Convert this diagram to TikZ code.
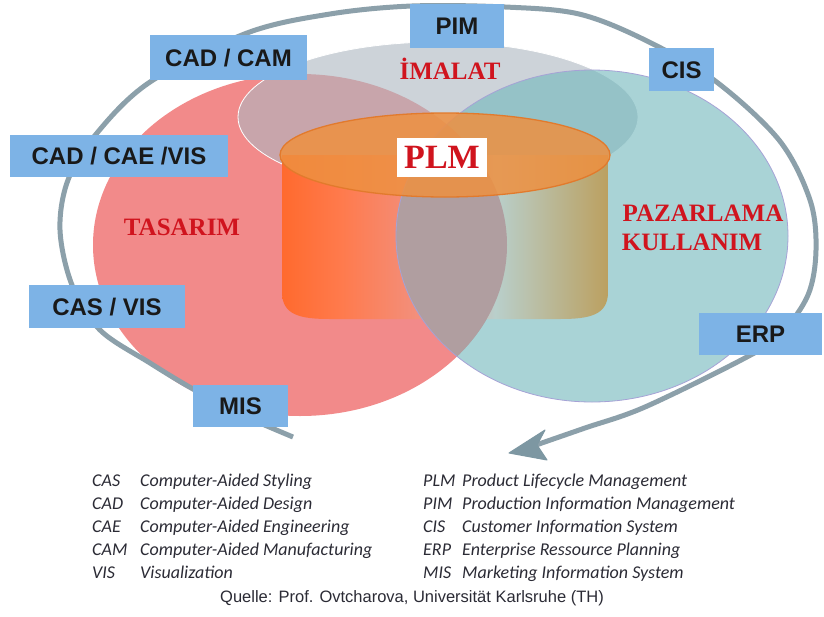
\documentclass[tikz,border=0pt]{standalone}
\usepackage{fontspec}
\setmainfont{Liberation Serif}
\newfontfamily\boxfont{Liberation Sans}
\newfontfamily\legfont{Carlito}
\usetikzlibrary{arrows.meta}
\definecolor{redc}{HTML}{F28A8A}
\definecolor{grayc}{HTML}{ACB7C1}
\definecolor{bluec}{HTML}{71B7BC}
\definecolor{lensc}{HTML}{B09EA0}
\definecolor{boxc}{HTML}{7DB3E6}
\definecolor{arcc}{HTML}{8CA0AA}
\definecolor{headc}{HTML}{7D97A2}
\definecolor{titlec}{HTML}{D0141E}
\definecolor{legc}{HTML}{2B2B35}
\definecolor{topc}{HTML}{EE9040}
\definecolor{topline}{HTML}{E27A2C}
\definecolor{blueline}{HTML}{A6A2D6}
\definecolor{ca}{HTML}{FF6A2E}
\definecolor{cb}{HTML}{FF7A4C}
\definecolor{cc}{HTML}{F2907E}
\definecolor{cd}{HTML}{B9CFCB}
\definecolor{ce}{HTML}{BBA060}
\pgfdeclarehorizontalshading{cylshade}{100bp}{color(0bp)=(ca); color(25bp)=(ca); color(33.9bp)=(cb); color(46.2bp)=(cc); color(57.7bp)=(cd); color(75bp)=(ce); color(100bp)=(ce)}
\begin{document}
\begin{tikzpicture}[x=1pt,y=-1pt,
  tbox/.style={fill=boxc, inner sep=0pt, text=black!90,
    font=\boxfont\bfseries\fontsize{24}{28}\selectfont, text height=17.2pt, text depth=0pt},
  region/.style={text=titlec, inner sep=0pt, font=\bfseries\fontsize{25}{29}\selectfont,
    text height=16.6pt, text depth=0pt},
  leg/.style={font=\legfont\itshape\fontsize{18}{21}\selectfont, text=legc, inner sep=0pt,
    anchor=west, text height=12pt, text depth=4pt},
  cyclearc/.style={draw=arcc, line width=5pt},
  cyclehead/.style={fill=headc, draw=headc, line width=1pt, line join=round}
]
\useasboundingbox (0,0) rectangle (824,616);
\fill[white] (0,0) rectangle (824,616);

% regions
\fill[redc] (300,245) ellipse [x radius=207, y radius=171];
\fill[grayc, fill opacity=0.6, draw=white, line width=0.8pt] (438,117) ellipse [x radius=200, y radius=75];
\fill[bluec, fill opacity=0.6] (592,236) ellipse [x radius=196, y radius=166];

% cylinder body
\shade[shading=cylshade] (282,155) -- (282,292) .. controls (282,315) and (300,319) .. (330,319)
  -- (560,319) .. controls (590,319) and (608,315) .. (608,292) -- (608,155) -- cycle;

% lens red/blue
\begin{scope}
  \clip (300,245) ellipse [x radius=207, y radius=171];
  \fill[lensc] (592,236) ellipse [x radius=196, y radius=166];
\end{scope}
\draw[blueline, line width=0.8pt] (592,236) ellipse [x radius=196, y radius=166];

% cylinder top
\fill[topc, fill opacity=0.85, draw=topline, line width=1.3pt] (445,155) ellipse [x radius=165, y radius=42];

% region labels
\node[region] (imalat) at (450,71) {İMALAT};
\node[region] (tasarim) at (182,227) {TASARIM};
\node[region] (pazar) at (703,213) {PAZARLAMA};
\node[region] (kullan) at (692,242) {KULLANIM};
\node[fill=white, inner sep=0pt, minimum width=90pt, minimum height=39pt, text=titlec,
  font=\bfseries\fontsize{34}{38}\selectfont, text height=22.5pt, text depth=0pt] (plm) at (442,157) {PLM};

% cycle arrow
\coordinate (arcstart) at (293,437);
\coordinate (arcend) at (536,445);
\coordinate (tip) at (509,453);
\draw[cyclearc] plot[smooth, tension=0.55] coordinates {(arcstart) (240,414) (193,389) (150,363) (100,330) (72,285) (60,230) (68,180) (97,133) (150,82) (247,33) (330,14) (412,6) (505,7) (579,14) (645,40) (714,80) (779,140) (810,200) (816,250) (808,295) (780,335) (745,358) (645,407) (585,428) (arcend)};
\fill[cyclehead] (tip) -- (545,430) -- (537,445) -- (547,460) -- cycle;

% system boxes
\node[tbox, minimum width=157pt, minimum height=45pt] (cadcam) at (228.5,57.5) {CAD / CAM};
\node[tbox, minimum width=94pt, minimum height=44pt] (pim) at (457,26) {PIM};
\node[tbox, minimum width=65pt, minimum height=43pt] (cis) at (681.5,69.5) {CIS};
\node[tbox, minimum width=218pt, minimum height=42pt] (cadcae) at (119,156) {CAD / CAE /VIS};
\node[tbox, minimum width=156pt, minimum height=43pt] (casvis) at (107,306.5) {CAS / VIS};
\node[tbox, minimum width=95pt, minimum height=42pt] (mis) at (240.5,406) {MIS};
\node[tbox, minimum width=123pt, minimum height=42pt] (erp) at (760.5,334) {ERP};

% legend
\foreach \a/\d [count=\i] in {CAS/Computer-Aided Styling, CAD/Computer-Aided Design,
  CAE/Computer-Aided Engineering, CAM/Computer-Aided Manufacturing, VIS/Visualization}{
  \node[leg] (la\i) at (92,{482+23*(\i-1)}) {\a};
  \node[leg] (ld\i) at (140,{482+23*(\i-1)}) {\d};
}
\foreach \a/\d [count=\i] in {PLM/Product Lifecycle Management, PIM/Production Information Management,
  CIS/Customer Information System, ERP/Enterprise Ressource Planning, MIS/Marketing Information System}{
  \node[leg] (ra\i) at (423,{482+23*(\i-1)}) {\a};
  \node[leg] (rd\i) at (462,{482+23*(\i-1)}) {\d};
}
\node[font=\boxfont\fontsize{16.5}{19}\selectfont, text=legc, inner sep=0pt] (quelle) at (412,598)
  {Quelle: Prof. Ovtcharova, Universität Karlsruhe (TH)};
\end{tikzpicture}
\end{document}
